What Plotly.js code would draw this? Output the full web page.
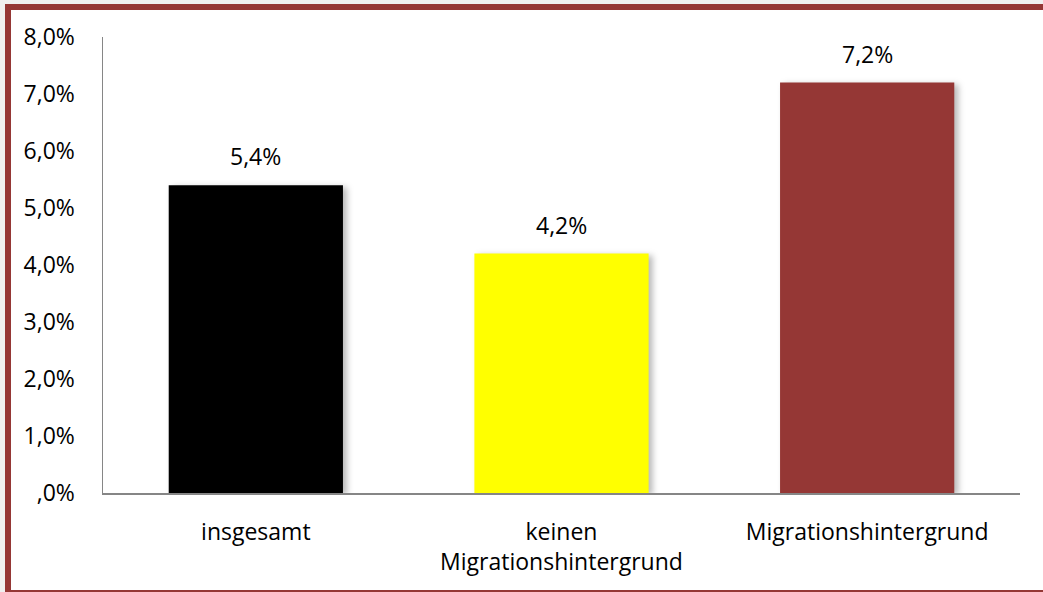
<!DOCTYPE html>
<html>
<head>
<meta charset="utf-8">
<script src="https://cdn.plot.ly/plotly-3.0.1.min.js"></script>
<style>
  html, body { margin: 0; padding: 0; background: #f0f0f0; width: 1043px; height: 592px; overflow: hidden; }
  #frame { position: absolute; left: 5px; top: 4px; width: 1200px; height: 580px; background: #ffffff;
           border: 6px solid #953735; }
  #chart { position: absolute; left: 0; top: 0; width: 1043px; height: 592px; }
  #chart .trace.bars path { filter: drop-shadow(4px 2px 3px rgba(0,0,0,0.28)); }
</style>
</head>
<body>
<div id="frame"></div>
<div id="chart"></div>
<script>
const categories = ["insgesamt", "keinen<br>Migrationshintergrund", "Migrationshintergrund"];
const values = [5.4, 4.2, 7.2];
const valueLabels = ["5,4%", "4,2%", "7,2%"];
const barColors = ["#000000", "#ffff00", "#953735"];
const yTickVals = [0, 1, 2, 3, 4, 5, 6, 7, 8];
const yTickText = [",0%", "1,0%", "2,0%", "3,0%", "4,0%", "5,0%", "6,0%", "7,0%", "8,0%"];

const font = { family: "'Open Sans', sans-serif", size: 23, color: "#000000" };

const trace = {
  type: "bar",
  x: categories,
  y: values,
  marker: { color: barColors, line: { width: 0 } },
  hoverinfo: "skip"
};

const annotations = categories.map((c, i) => ({
  x: c, y: values[i], xref: "x", yref: "y",
  text: valueLabels[i], showarrow: false,
  yanchor: "bottom", yshift: 11, font: font
}));

const layout = {
  width: 1043, height: 592,
  margin: { l: 103, r: 23, t: 37, b: 99 },
  paper_bgcolor: "rgba(0,0,0,0)",
  plot_bgcolor: "rgba(0,0,0,0)",
  font: font,
  showlegend: false,
  bargap: 0.43,
  xaxis: {
    showline: true, linecolor: "#868686", linewidth: 1.5,
    ticks: "", showgrid: false, zeroline: false,
    ticklabelstandoff: 18, tickfont: font
  },
  yaxis: {
    range: [0, 8], tickvals: yTickVals, ticktext: yTickText,
    showline: true, linecolor: "#868686", linewidth: 1.5,
    ticks: "outside", ticklen: 22, tickcolor: "rgba(0,0,0,0)",
    showgrid: false, zeroline: false,
    tickfont: font
  },
  annotations: annotations
};

Plotly.newPlot("chart", [trace], layout, { displayModeBar: false, staticPlot: true });
</script>
</body>
</html>
